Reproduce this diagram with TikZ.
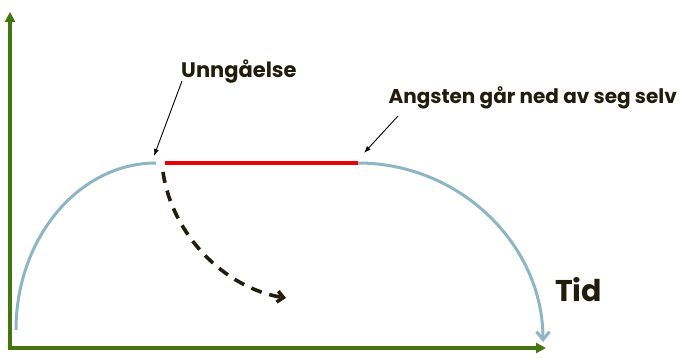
\documentclass[tikz,border=0pt]{standalone}
\usepackage{fontspec}
\setmainfont{Poppins}
\usepackage{tikz}
\usetikzlibrary{arrows.meta,positioning,calc}
\definecolor{olive}{HTML}{45750F}
\definecolor{steel}{HTML}{8DB5C3}
\definecolor{alarm}{HTML}{E8000B}
\definecolor{ink}{HTML}{221C0C}

\begin{document}
\begin{tikzpicture}[x=1pt,y=-1pt,
 lbl/.style={inner sep=0pt,text=ink,font=\bfseries\fontsize{20}{24}\selectfont},
 ax/.style={draw=olive,line width=3.2pt,-{Triangle[length=10pt,width=10pt]}},
 crv/.style={draw=steel,line width=3pt},
 pt/.style={draw=black,line width=.9pt,-{Latex[length=7pt,width=5pt]}}]
\useasboundingbox (0,0) rectangle (680,358);
\coordinate (o) at (10,348);
\coordinate (yend) at (10,12);
\coordinate (xend) at (546,348);
\coordinate (s) at (16,330);
\coordinate (top1) at (156,163);
\coordinate (r1) at (165,163);
\coordinate (r2) at (358,163);
\coordinate (e) at (543,342);
\coordinate (d1) at (163,172);
\coordinate (d2) at (286,298);
\coordinate (t1) at (182,81);
\coordinate (h1) at (154,156);
\coordinate (t2) at (398,116);
\coordinate (h2) at (364,153);
\node[lbl,anchor=west,font=\bfseries\fontsize{21}{24}\selectfont] (avoid) at (181,72) {Unngåelse};
\node[lbl,anchor=east] (drop) at (677,98) {Angsten går ned av seg selv};
\node[lbl,anchor=west,font=\bfseries\fontsize{30}{34}\selectfont] (time) at (555,290) {Tid};
\draw[ax] ($(o)+(0,2)$)--(yend);
\draw[ax] ($(o)+(-2,0)$)--(xend);
\draw[crv] (s) .. controls (16,238) and (79,163) .. (top1);
\draw[crv,-{Straight Barb[length=8pt,width=13pt]}] (r2) .. controls (460,163) and (543,245) .. (e);
\draw[draw=alarm,line width=4.5pt] (r1)--(r2);
\draw[draw=ink,line width=3.6pt,dash pattern=on 11pt off 8pt,-{Straight Barb[length=6pt,width=11pt]}] (d1) .. controls (172,235) and (225,288) .. (d2);
\draw[pt] (t1)--(h1);
\draw[pt] (t2)--(h2);
\end{tikzpicture}
\end{document}
